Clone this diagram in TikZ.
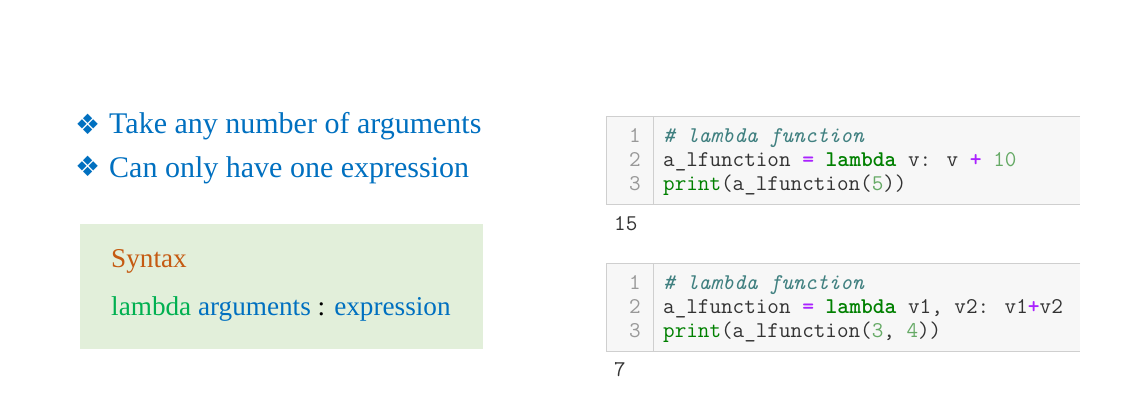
\documentclass[tikz,border=0pt]{standalone}
\usepackage{fontspec}
\setmainfont{Liberation Serif}
\newfontfamily\symfont{DejaVu Sans}
\newcommand{\codefont}{\ttfamily}
\definecolor{txtblue}{HTML}{0070C0}
\definecolor{synorange}{HTML}{C55A11}
\definecolor{lamgreen}{HTML}{00B050}
\definecolor{boxgreen}{HTML}{E2EFDA}
\definecolor{codebg}{HTML}{F7F7F7}
\definecolor{codeborder}{HTML}{CFCFCF}
\definecolor{cmt}{HTML}{408080}
\definecolor{opc}{HTML}{AA22FF}
\definecolor{kwc}{HTML}{008000}
\definecolor{numc}{HTML}{66AA66}
\definecolor{codetxt}{HTML}{333333}
\definecolor{lnum}{HTML}{999999}
\newcommand{\cm}[1]{\textcolor{cmt}{\itshape #1}}
\newcommand{\op}[1]{\textcolor{opc}{\bfseries #1}}
\newcommand{\kw}[1]{\textcolor{kwc}{\bfseries #1}}
\newcommand{\bi}[1]{\textcolor{kwc}{#1}}
\newcommand{\nm}[1]{\textcolor{numc}{#1}}
\begin{document}
\begin{tikzpicture}[x=1pt,y=-1pt,
  bigtxt/.style={anchor=base west,inner sep=0pt,text=txtblue,font=\fontsize{30}{36}\selectfont},
  bulletmark/.style={anchor=base west,inner sep=0pt,text=txtblue,font=\symfont\fontsize{28}{30}\selectfont},
  syntxt/.style={anchor=base west,inner sep=0pt,font=\fontsize{27.2}{30}\selectfont},
  codebox/.style={fill=codebg,draw=codeborder,line width=1pt},
  gutter/.style={draw=codeborder,line width=1pt},
  codeline/.style={anchor=base west,inner sep=0pt,text=codetxt,font=\codefont\fontsize{22.5}{24}\selectfont},
  linenum/.style={anchor=base east,inner sep=0pt,text=lnum,font=\codefont\fontsize{22.5}{24}\selectfont},
  outtxt/.style={anchor=base west,inner sep=0pt,text=codetxt,font=\codefont\fontsize{22.5}{24}\selectfont}]
\useasboundingbox[fill=white] (0,0) rectangle (1126,410);

% bullets
\node[bulletmark] (b1) at (75,134) {❖};
\node[bigtxt] (t1) at (109,133) {Take any number of arguments};
\node[bulletmark] (b2) at (75,176) {❖};
\node[bigtxt] (t2) at (109,177) {Can only have one expression};

% syntax box
\fill[boxgreen] (80,224) rectangle (483,349);
\node[syntxt,text=synorange] (syn) at (111,267) {Syntax};
\node[syntxt] (expr) at (111,315) {\textcolor{lamgreen}{lambda} \textcolor{txtblue}{arguments} : \textcolor{txtblue}{expression}};

% code cell 1
\path[codebox] (1080,116) -- (606,116) -- (606,204) -- (1080,204);
\fill[codebg] (606.5,116.5) rectangle (1080,203.5);
\draw[gutter] (653,116.5) -- (653,203.5);
\node[linenum] (n11) at (641,142.5) {1};
\node[linenum] (n12) at (641,166.5) {2};
\node[linenum] (n13) at (641,190.5) {3};
\node[codeline] (c11) at (663,142.5) {\cm{\# lambda function}};
\node[codeline] (c12) at (663,166.5) {a\_lfunction \op{=} \kw{lambda} v: v \op{+} \nm{10}};
\node[codeline] (c13) at (663,190.5) {\bi{print}(a\_lfunction(\nm{5}))};
\node[outtxt] (o1) at (614,230.5) {15};

% code cell 2
\path[codebox] (1080,263) -- (606,263) -- (606,351) -- (1080,351);
\fill[codebg] (606.5,263.5) rectangle (1080,350.5);
\draw[gutter] (653,263.5) -- (653,350.5);
\node[linenum] (n21) at (641,289.5) {1};
\node[linenum] (n22) at (641,313.5) {2};
\node[linenum] (n23) at (641,337.5) {3};
\node[codeline] (c21) at (663,289.5) {\cm{\# lambda function}};
\node[codeline] (c22) at (663,313.5) {a\_lfunction \op{=} \kw{lambda} v1, v2: v1\op{+}v2};
\node[codeline] (c23) at (663,337.5) {\bi{print}(a\_lfunction(\nm{3}, \nm{4}))};
\node[outtxt] (o2) at (614,376.5) {7};
\end{tikzpicture}
\end{document}
